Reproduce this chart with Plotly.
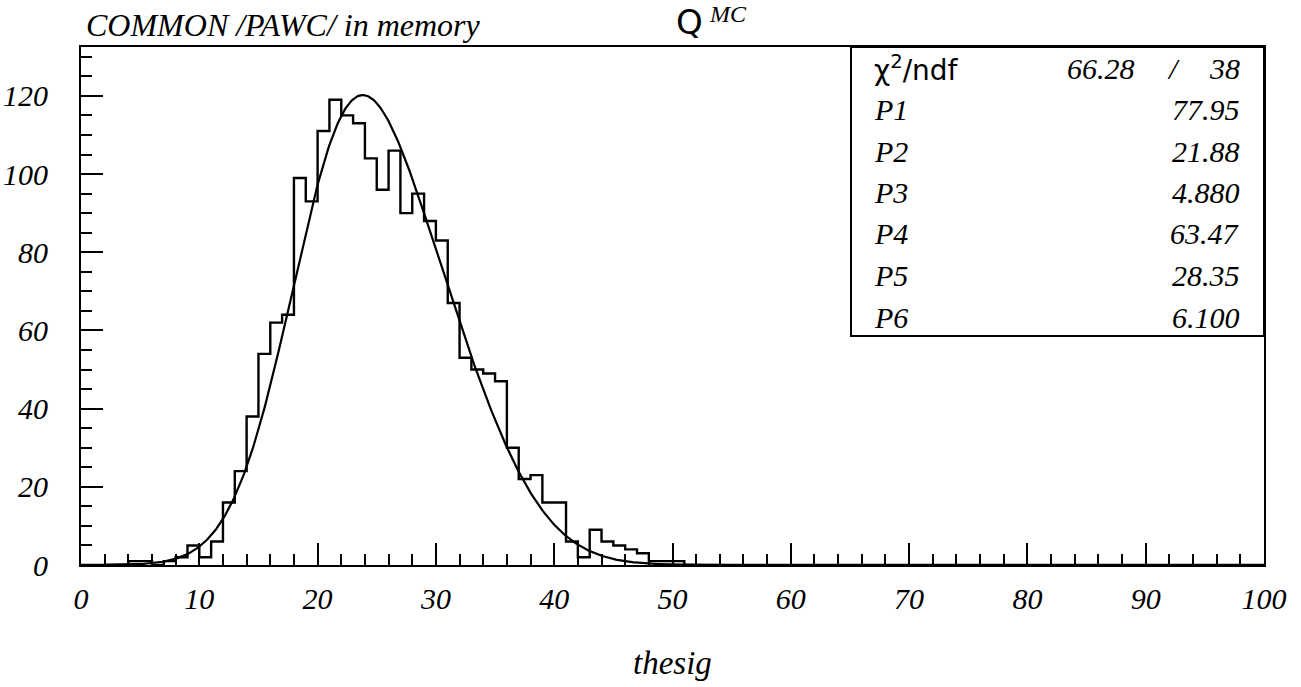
import plotly.graph_objects as go
import numpy as np

# ---- data ----
bin_lo = list(range(0, 100))          # lower edges of unit-width bins
counts = [0, 0, 0, 0, 1, 1, 0, 1, 2, 5,
          2, 6, 16, 24, 38, 54, 62, 64, 99, 93,
          111, 119, 115, 113, 104, 96, 106, 90, 95, 88,
          83, 67, 53, 50, 49, 47, 30, 22, 23, 16,
          16, 6, 2, 9, 6, 5, 4, 3, 1, 1,
          1, 0, 0, 0, 0, 0, 0, 0, 0, 0] + [0] * 40
fit_params = [77.95, 21.88, 4.880, 63.47, 28.35, 6.100]
chi2_text = "66.28"
ndf_text = "38"
stat_labels = ["P1", "P2", "P3", "P4", "P5", "P6"]
stat_values = ["77.95", "21.88", "4.880", "63.47", "28.35", "6.100"]
x_ticks = [0, 10, 20, 30, 40, 50, 60, 70, 80, 90, 100]
y_ticks = [0, 20, 40, 60, 80, 100, 120]

# ---- layout geometry (pixels) ----
W, H = 1301, 687
L, R, T, B = 81, 37, 47, 122
PW, PH = W - L - R, H - T - B


def px(x):
    return (x - L) / PW


def py(y):
    return (H - B - y) / PH


SERIF = "Liberation Serif"
fig = go.Figure()

# histogram outline
edges = bin_lo + [bin_lo[-1] + 1]
fig.add_trace(go.Scatter(x=edges, y=counts + [counts[-1]], mode="lines",
                         line=dict(color="black", width=2.4, shape="hv"),
                         hoverinfo="skip", showlegend=False))

# fit: sum of two gaussians using fitted parameters
p = fit_params
xf = np.linspace(2, 55, 500)
yf = p[0] * np.exp(-0.5 * ((xf - p[1]) / p[2]) ** 2) + p[3] * np.exp(-0.5 * ((xf - p[4]) / p[5]) ** 2)
fig.add_trace(go.Scatter(x=xf, y=yf, mode="lines", line=dict(color="black", width=2.2),
                         hoverinfo="skip", showlegend=False))

tickfont = dict(family=SERIF, size=30, color="black", style="italic")
fig.update_layout(
    width=W, height=H, margin=dict(l=L, r=R, t=T, b=B),
    paper_bgcolor="white", plot_bgcolor="white",
    xaxis=dict(range=[0, 100], tickvals=x_ticks, ticktext=[str(v) for v in x_ticks],
               ticks="inside", ticklen=22, tickwidth=2, tickcolor="black",
               minor=dict(dtick=2, ticks="inside", ticklen=11, tickwidth=2, tickcolor="black"),
               showline=True, linewidth=2, linecolor="black", mirror=True, automargin=False,
               showgrid=False, zeroline=False, tickfont=tickfont, ticklabelstandoff=6),
    yaxis=dict(range=[0, 132.5], tickvals=y_ticks, ticktext=[str(v) for v in y_ticks],
               ticks="inside", ticklen=22, tickwidth=2, tickcolor="black",
               minor=dict(dtick=5, ticks="inside", ticklen=11, tickwidth=2, tickcolor="black"),
               showline=True, linewidth=2, linecolor="black", mirror=True, automargin=False,
               showgrid=False, zeroline=False, tickfont=tickfont, ticklabelstandoff=25),
)

# stats box
fig.add_shape(type="rect", xref="paper", yref="paper", x0=px(851), x1=1, y0=py(336), y1=1,
              line=dict(color="black", width=2), fillcolor="white", layer="above")

ann = []
row0, step = 68, 41.5
ann.append(dict(text="χ<sup>2</sup>/ndf", x=px(872), y=py(row0), xanchor="left", yanchor="middle",
                font=dict(family="DejaVu Sans", size=28, color="black")))
ann.append(dict(text=chi2_text, x=px(1137), y=py(row0), xanchor="right", yanchor="middle",
                font=dict(family=SERIF, size=30, color="black", style="italic")))
ann.append(dict(text="/", x=px(1173), y=py(row0), xanchor="center", yanchor="middle",
                font=dict(family=SERIF, size=30, color="black", style="italic")))
ann.append(dict(text=ndf_text, x=px(1242), y=py(row0), xanchor="right", yanchor="middle",
                font=dict(family=SERIF, size=30, color="black", style="italic")))
for i, (lab, val) in enumerate(zip(stat_labels, stat_values)):
    yy = py(row0 + step * (i + 1))
    ann.append(dict(text=lab, x=px(872), y=yy, xanchor="left", yanchor="middle",
                    font=dict(family=SERIF, size=30, color="black", style="italic")))
    ann.append(dict(text=val, x=px(1242), y=yy, xanchor="right", yanchor="middle",
                    font=dict(family=SERIF, size=30, color="black", style="italic")))

ann.append(dict(text="COMMON /PAWC/ in memory", x=px(84), y=py(25), xanchor="left", yanchor="middle",
                font=dict(family=SERIF, size=32, color="black", style="italic")))
ann.append(dict(text="Q", x=px(689), y=py(22), xanchor="center", yanchor="middle",
                font=dict(family="DejaVu Sans", size=34, color="black")))
ann.append(dict(text="MC", x=px(707), y=py(14), xanchor="left", yanchor="middle",
                font=dict(family=SERIF, size=24, color="black", style="italic")))
ann.append(dict(text="thesig", x=px(672), y=py(663), xanchor="center", yanchor="middle",
                font=dict(family=SERIF, size=33, color="black", style="italic")))

for a in ann:
    a.update(xref="paper", yref="paper", showarrow=False)
fig.update_layout(annotations=ann)

fig.write_html("out.html")
